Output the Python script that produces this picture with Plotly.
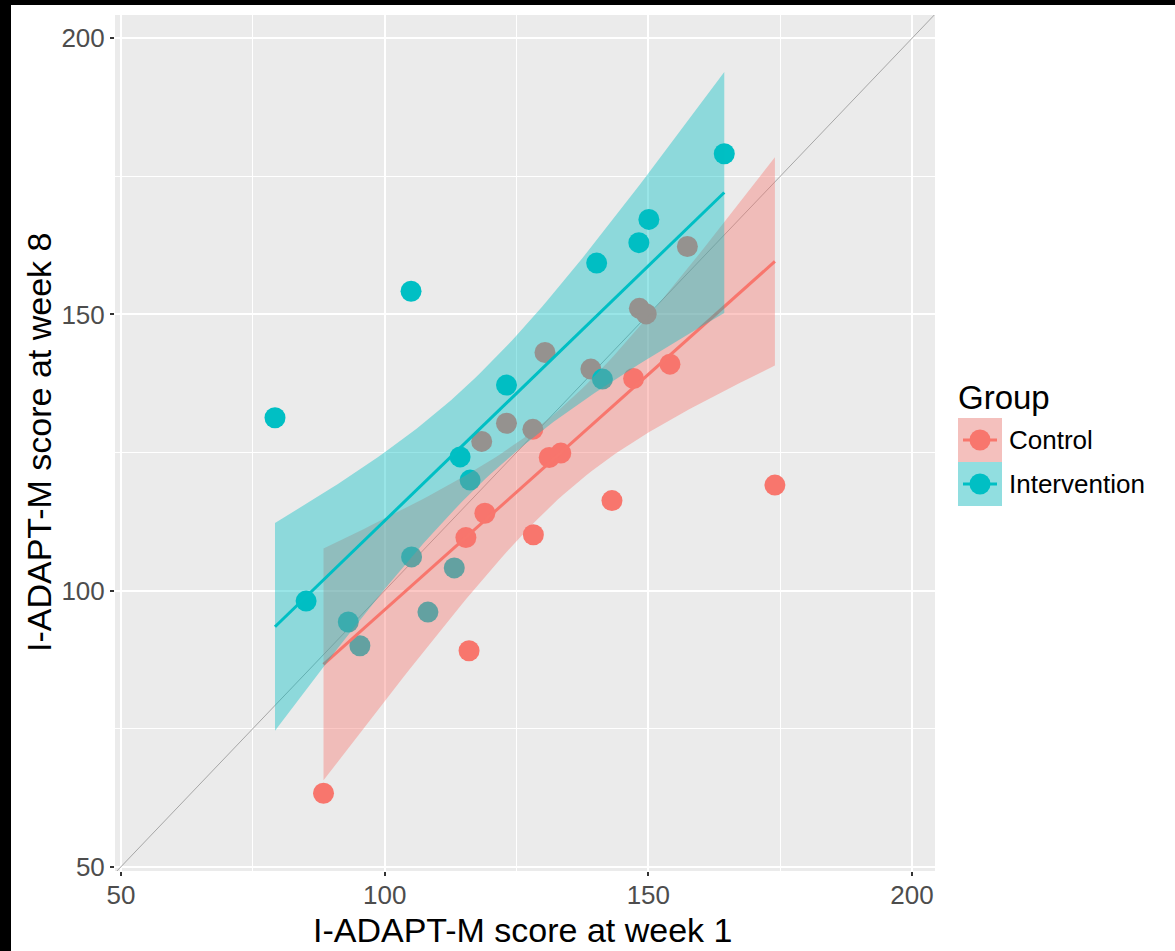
import numpy as np
import plotly.graph_objects as go

# ---------------- data ----------------
GROUPS = ["Control", "Intervention"]
GROUP_COLORS = ["#F8766D", "#00BFC4"]
RIBBON_COLORS = ["rgba(248,118,109,0.4)", "rgba(0,191,196,0.4)"]
KEY_FILLS = ["#F4C0BD", "#91DEE0"]

control_week1 = [88.4, 116.0, 115.4, 119.0, 128.2, 131.2, 133.4, 143.1, 147.2, 154.1,
                 174.0, 118.4, 123.1, 128.1, 130.4, 139.1, 148.3, 149.6, 157.4]
control_week8 = [63.3, 89.1, 109.6, 114.0, 110.1, 124.1, 124.9, 116.3, 138.4, 141.0,
                 119.1, 127.0, 130.3, 129.2, 143.1, 140.1, 151.1, 150.1, 162.3]

intervention_week1 = [79.2, 85.1, 93.1, 95.3, 105.1, 105.0, 108.2, 113.2, 114.3, 116.2,
                      123.1, 140.2, 141.3, 148.2, 150.1, 164.4]
intervention_week8 = [131.3, 98.1, 94.3, 90.0, 106.1, 154.2, 96.1, 104.1, 124.2, 120.0,
                      137.2, 159.3, 138.3, 163.0, 167.2, 179.1]

X_TICKS = [50, 100, 150, 200]
Y_TICKS = [50, 100, 150, 200]
X_MINOR = [75, 125, 175]
Y_MINOR = [75, 125, 175]
X_RANGE = [48.86, 204.36]
Y_RANGE = [49.22, 204.22]

X_TITLE = "I-ADAPT-M score at week 1"
Y_TITLE = "I-ADAPT-M score at week 8"
LEGEND_TITLE = "Group"

# ---------------- layout geometry ----------------
W, H = 1175, 951
ML, MR, MT, MB = 115, 240, 15, 80
PW, PH = W - ML - MR, H - MT - MB
FONT = "Liberation Sans, Arial, sans-serif"


def px_x(px):
    return (px - ML) / PW


def px_y(py):
    return (H - MB - py) / PH


# ---------------- linear fit with 95% confidence band ----------------
Z975 = 1.959963985


def t_quantile_975(df):
    z = Z975
    g1 = (z**3 + z) / 4
    g2 = (5 * z**5 + 16 * z**3 + 3 * z) / 96
    g3 = (3 * z**7 + 19 * z**5 + 17 * z**3 - 15 * z) / 384
    g4 = (79 * z**9 + 776 * z**7 + 1482 * z**5 - 1920 * z**3 - 945 * z) / 92160
    return z + g1 / df + g2 / df**2 + g3 / df**3 + g4 / df**4


def lm_band(x, y, npts=80):
    x = np.asarray(x, float)
    y = np.asarray(y, float)
    n = len(x)
    slope, icpt = np.polyfit(x, y, 1)
    resid = y - (icpt + slope * x)
    s = np.sqrt(np.sum(resid**2) / (n - 2))
    sxx = np.sum((x - x.mean())**2)
    grid = np.linspace(x.min(), x.max(), npts)
    fit = icpt + slope * grid
    se = s * np.sqrt(1.0 / n + (grid - x.mean())**2 / sxx)
    t = t_quantile_975(n - 2)
    return grid, fit, fit - t * se, fit + t * se


data = [(control_week1, control_week8), (intervention_week1, intervention_week8)]

fig = go.Figure()

# identity reference line
fig.add_trace(go.Scatter(x=X_RANGE, y=X_RANGE, mode="lines",
                         line=dict(color="#a6a6a6", width=1),
                         hoverinfo="skip", showlegend=False))

# points
for (xv, yv), name, col in zip(data, GROUPS, GROUP_COLORS):
    fig.add_trace(go.Scatter(x=xv, y=yv, mode="markers", name=name,
                             marker=dict(color=col, size=21, line=dict(width=0)),
                             showlegend=False))

# smooths (ribbon then line per group)
for (xv, yv), name, col, rib in zip(data, GROUPS, GROUP_COLORS, RIBBON_COLORS):
    g, f, lo, hi = lm_band(xv, yv)
    fig.add_trace(go.Scatter(x=np.concatenate([g, g[::-1]]),
                             y=np.concatenate([lo, hi[::-1]]),
                             mode="lines", fill="toself", fillcolor=rib,
                             line=dict(width=0), hoverinfo="skip", showlegend=False))
    fig.add_trace(go.Scatter(x=g, y=f, mode="lines", line=dict(color=col, width=3),
                             hoverinfo="skip", showlegend=False))

axis_common = dict(
    showgrid=True, gridcolor="white", gridwidth=2,
    zeroline=False, showline=False,
    ticks="outside", ticklen=4, tickwidth=1.5, tickcolor="#333333",
    tickfont=dict(family=FONT, size=26, color="#4D4D4D"),
)

fig.update_xaxes(range=X_RANGE, tickvals=X_TICKS, ticklabelstandoff=-3,
                 minor=dict(tickvals=X_MINOR, showgrid=True, gridcolor="white",
                            gridwidth=1.1, ticks=""),
                 **axis_common)
fig.update_yaxes(range=Y_RANGE, tickvals=Y_TICKS,
                 minor=dict(tickvals=Y_MINOR, showgrid=True, gridcolor="white",
                            gridwidth=1.1, ticks=""),
                 **axis_common)

shapes = []
annotations = []

# axis titles
annotations.append(dict(text=X_TITLE, xref="paper", yref="paper",
                        x=px_x(522), y=px_y(930), xanchor="center", yanchor="middle",
                        showarrow=False, font=dict(family=FONT, size=34, color="black")))
annotations.append(dict(text=Y_TITLE, xref="paper", yref="paper", textangle=-90,
                        x=px_x(39), y=px_y(443), xanchor="center", yanchor="middle",
                        showarrow=False, font=dict(family=FONT, size=34, color="black")))

# manual legend
annotations.append(dict(text=LEGEND_TITLE, xref="paper", yref="paper",
                        x=px_x(956), y=px_y(397), xanchor="left", yanchor="middle",
                        showarrow=False, font=dict(family=FONT, size=33, color="black")))
key_top = 418
key_size = 44
for i, (name, col, kf) in enumerate(zip(GROUPS, GROUP_COLORS, KEY_FILLS)):
    y0 = key_top + i * key_size
    yc = y0 + key_size / 2
    shapes.append(dict(type="rect", xref="paper", yref="paper",
                       x0=px_x(958), x1=px_x(958 + key_size),
                       y0=px_y(y0 + key_size), y1=px_y(y0),
                       fillcolor=kf, line=dict(width=0), layer="above"))
    shapes.append(dict(type="line", xref="paper", yref="paper",
                       x0=px_x(963), x1=px_x(997), y0=px_y(yc), y1=px_y(yc),
                       line=dict(color=col, width=3), layer="above"))
    shapes.append(dict(type="circle", xref="paper", yref="paper",
                       x0=px_x(980 - 10.5), x1=px_x(980 + 10.5),
                       y0=px_y(yc + 10.5), y1=px_y(yc - 10.5),
                       fillcolor=col, line=dict(width=0), layer="above"))
    annotations.append(dict(text=name, xref="paper", yref="paper",
                            x=px_x(1007), y=px_y(yc), xanchor="left", yanchor="middle",
                            showarrow=False, font=dict(family=FONT, size=26, color="black")))

# black screenshot borders (top and left)
shapes.append(dict(type="rect", xref="paper", yref="paper",
                   x0=px_x(-20), x1=px_x(W + 20), y0=px_y(5), y1=px_y(-20),
                   fillcolor="black", line=dict(width=0), layer="above"))
shapes.append(dict(type="rect", xref="paper", yref="paper",
                   x0=px_x(-20), x1=px_x(11), y0=px_y(H + 20), y1=px_y(-20),
                   fillcolor="black", line=dict(width=0), layer="above"))

fig.update_layout(
    width=W, height=H,
    margin=dict(l=ML, r=MR, t=MT, b=MB, pad=0),
    paper_bgcolor="white", plot_bgcolor="#EBEBEB",
    showlegend=False,
    shapes=shapes, annotations=annotations,
    font=dict(family=FONT),
)

fig.write_html("out.html",
               config={"displayModeBar": False},
               post_script="document.body.style.margin='0';"
                           "document.body.style.overflow='hidden';")
